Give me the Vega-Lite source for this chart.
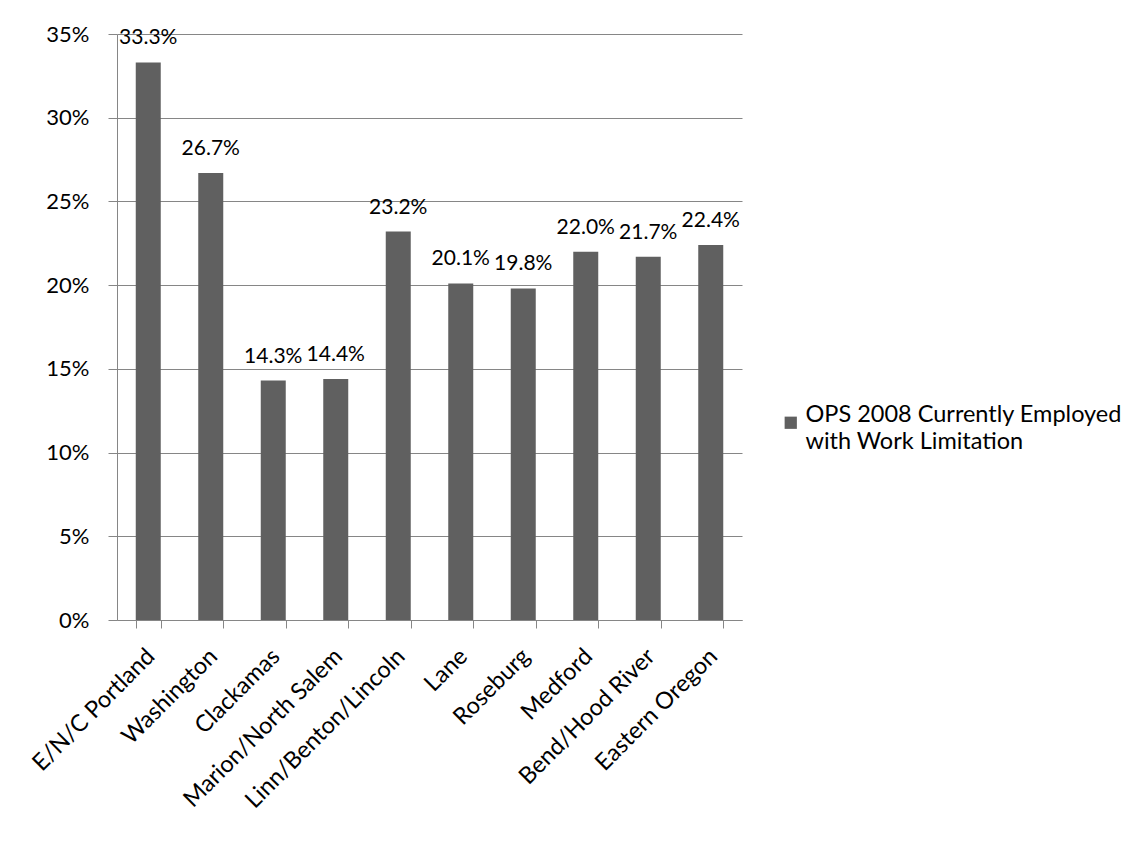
{
  "$schema": "https://vega.github.io/schema/vega-lite/v6.json",
  "autosize": {"type": "none"},
  "padding": {"left": 117, "top": 34, "right": 403, "bottom": 228},
  "width": 625,
  "height": 586,
  "background": "white",
  "config": {
    "font": "Lato",
    "view": {"stroke": null},
    "axis": {
      "labelFont": "Lato",
      "labelColor": "#000000",
      "domainColor": "#868686",
      "tickColor": "#868686",
      "gridColor": "#868686",
      "title": null
    }
  },
  "data": {
    "values": [
      {"region": "E/N/C Portland", "share": 0.333, "series": "OPS 2008 Currently Employed with Work Limitation"},
      {"region": "Washington", "share": 0.267, "series": "OPS 2008 Currently Employed with Work Limitation"},
      {"region": "Clackamas", "share": 0.143, "series": "OPS 2008 Currently Employed with Work Limitation"},
      {"region": "Marion/North Salem", "share": 0.144, "series": "OPS 2008 Currently Employed with Work Limitation"},
      {"region": "Linn/Benton/Lincoln", "share": 0.232, "series": "OPS 2008 Currently Employed with Work Limitation"},
      {"region": "Lane", "share": 0.201, "series": "OPS 2008 Currently Employed with Work Limitation"},
      {"region": "Roseburg", "share": 0.198, "series": "OPS 2008 Currently Employed with Work Limitation"},
      {"region": "Medford", "share": 0.22, "series": "OPS 2008 Currently Employed with Work Limitation"},
      {"region": "Bend/Hood River", "share": 0.217, "series": "OPS 2008 Currently Employed with Work Limitation"},
      {"region": "Eastern Oregon", "share": 0.224, "series": "OPS 2008 Currently Employed with Work Limitation"}
    ]
  },
  "encoding": {
    "x": {
      "field": "region",
      "type": "nominal",
      "sort": null,
      "scale": {"paddingInner": 0.6, "paddingOuter": 0.3},
      "axis": {
        "tickBand": "extent",
        "tickSize": 8,
        "labelFontSize": 23.5,
        "labelAngle": -45,
        "labelAlign": "right",
        "labelBaseline": "top",
        "labelPadding": 16,
        "labelOffset": -6,
        "labelLimit": 300
      }
    },
    "y": {
      "field": "share",
      "type": "quantitative",
      "scale": {"domain": [0, 0.35], "nice": false},
      "axis": {
        "values": [0, 0.05, 0.1, 0.15, 0.2, 0.25, 0.3, 0.35],
        "format": ".0%",
        "grid": true,
        "tickSize": 9,
        "labelFontSize": 22,
        "labelPadding": 19
      }
    }
  },
  "layer": [
    {
      "mark": {"type": "bar", "color": "#606060"},
      "encoding": {
        "color": {
          "field": "series",
          "type": "nominal",
          "scale": {"range": ["#606060"]},
          "legend": {
            "title": null,
            "orient": "none",
            "legendX": 662,
            "legendY": 377,
            "symbolType": "square",
            "symbolSize": 150,
            "symbolStrokeWidth": 0,
            "symbolOpacity": 1,
            "labelFont": "Lato",
            "labelFontSize": 23.5,
            "labelColor": "#000000",
            "labelBaseline": "middle",
            "labelOffset": 3,
            "labelLimit": 400,
            "labelExpr": "['OPS 2008 Currently Employed', 'with Work Limitation']",
            "encode": {
              "labels": {
                "update": {
                  "lineHeight": {"value": 27},
                  "dy": {"value": -8}
                }
              }
            }
          }
        }
      }
    },
    {
      "mark": {"type": "text", "baseline": "alphabetic", "dy": -18, "fontSize": 21, "font": "Lato", "color": "#000000"},
      "encoding": {
        "text": {"field": "share", "type": "quantitative", "format": ".1%"}
      }
    }
  ]
}
